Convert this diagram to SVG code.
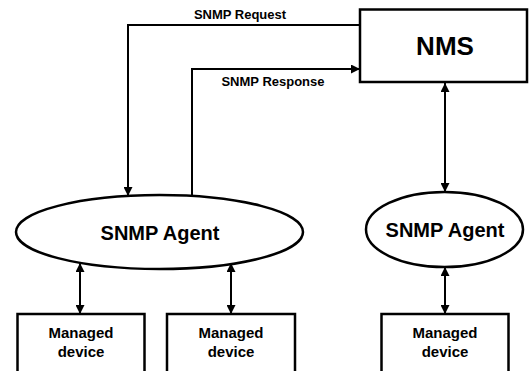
<svg xmlns="http://www.w3.org/2000/svg" width="530" height="371" viewBox="0 0 530 371">
<defs>
<style>
.box{fill:#fff;stroke:#000;stroke-width:2.5}
.line{fill:none;stroke:#000;stroke-width:2}
text{font-family:"Liberation Sans",Arial,sans-serif;font-weight:bold;fill:#000;text-anchor:middle}
.lbl{font-size:13px}
.dev{font-size:15px}
.agent{font-size:20px}
.nms{font-size:26px}
</style>
<marker id="ah" viewBox="0 0 10 10" refX="10" refY="5" markerWidth="4.5" markerHeight="4.5" orient="auto-start-reverse" markerUnits="strokeWidth">
<path d="M0,0 L10,5 L0,10 Z" fill="#000"/>
</marker>
</defs>
<rect width="530" height="371" fill="#fff"/>
<g id="connectors">
<polyline class="line" points="360,25 128,25 128,196" marker-end="url(#ah)"/>
<polyline class="line" points="192,196 192,69 360,69" marker-end="url(#ah)"/>
<line class="line" x1="445" y1="83" x2="445" y2="192" marker-start="url(#ah)" marker-end="url(#ah)"/>
<line class="line" x1="80" y1="263" x2="80" y2="314" marker-start="url(#ah)" marker-end="url(#ah)"/>
<line class="line" x1="231" y1="263" x2="231" y2="314" marker-start="url(#ah)" marker-end="url(#ah)"/>
<line class="line" x1="445" y1="267" x2="445" y2="314" marker-start="url(#ah)" marker-end="url(#ah)"/>
<text class="lbl" x="240" y="18.5">SNMP Request</text>
<text class="lbl" x="273" y="86">SNMP Response</text>
</g>
<g id="nms">
<rect class="box" x="360" y="9.5" width="167" height="72.5"/>
<text class="nms" x="445" y="55">NMS</text>
</g>
<g id="agent-left">
<ellipse class="box" cx="159.5" cy="232" rx="143.5" ry="37"/>
<text class="agent" x="160" y="240">SNMP Agent</text>
</g>
<g id="agent-right">
<ellipse class="box" cx="444.5" cy="229.5" rx="78.5" ry="37.5"/>
<text class="agent" x="445" y="237">SNMP Agent</text>
</g>
<g id="device-1">
<rect class="box" x="17.5" y="314" width="127" height="70"/>
<text class="dev" x="81" y="338">Managed</text>
<text class="dev" x="81" y="357">device</text>
</g>
<g id="device-2">
<rect class="box" x="167" y="314" width="128" height="70"/>
<text class="dev" x="231" y="338">Managed</text>
<text class="dev" x="231" y="357">device</text>
</g>
<g id="device-3">
<rect class="box" x="381.5" y="314" width="127" height="70"/>
<text class="dev" x="445" y="338">Managed</text>
<text class="dev" x="445" y="357">device</text>
</g>
</svg>
